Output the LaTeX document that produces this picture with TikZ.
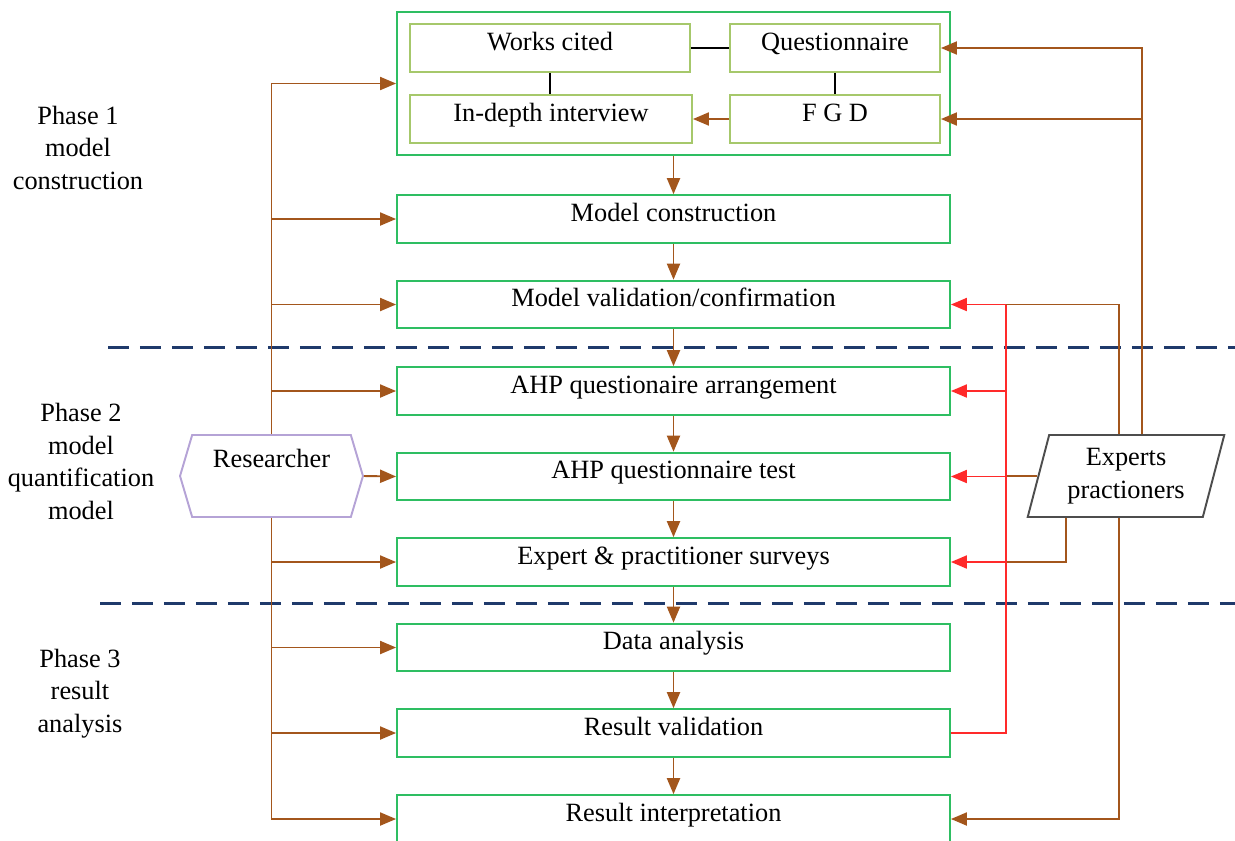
\documentclass[tikz,border=0pt]{standalone}
\usepackage{fontspec}
\setmainfont{Liberation Serif}
\usepackage{tikz}
\usetikzlibrary{shapes,arrows.meta,positioning}
\definecolor{boxgreen}{HTML}{2EBE62}
\definecolor{subgreen}{HTML}{A6C86B}
\definecolor{flowbrown}{HTML}{A3561C}
\definecolor{expertred}{HTML}{FF2A2A}
\definecolor{phaseline}{HTML}{1F3A6B}
\definecolor{resviolet}{HTML}{B5A3D6}
\definecolor{expgray}{HTML}{4D4D4D}

\begin{document}
\begin{tikzpicture}[x=0.02cm, y=-0.02cm,
    every node/.style={font=\fontsize{15}{18.5}\selectfont},
    stage/.style={rectangle, draw=boxgreen, line width=1.1pt, fill=white, minimum width=11.06cm, minimum height=0.92cm, text height=0.4cm, text depth=0.32cm},
    substage/.style={rectangle, draw=subgreen, line width=1.1pt, fill=white, minimum height=0.92cm, text height=0.4cm, text depth=0.32cm},
    flow/.style={flowbrown, line width=1.1pt, -{Triangle[length=0.32cm,width=0.26cm]}},
    flowline/.style={flowbrown, line width=1.1pt},
    feed/.style={expertred, line width=1.1pt, -{Triangle[length=0.32cm,width=0.26cm]}},
    feedline/.style={expertred, line width=1.1pt},
    phase/.style={align=center}]
        \clip (0,0) rectangle (1235,840);

        % Phase separators
        \draw[phaseline, line width=1.7pt, dash pattern=on 0.42cm off 0.22cm] (108,347) -- (1235,347);
        \draw[phaseline, line width=1.7pt, dash pattern=on 0.42cm off 0.22cm] (100,603) -- (1235,603);

        % Phase labels
        \node[phase] (ph1) at (78,147.5) {Phase 1\\model\\construction};
        \node[phase] (ph2) at (81,461.5) {Phase 2\\model\\quantification\\model};
        \node[phase] (ph3) at (80,693.5) {Phase 3\\result\\analysis};

        % Data collection block
        \node[rectangle, draw=boxgreen, line width=1.1pt, minimum width=11.06cm, minimum height=2.86cm] (collect) at (673.5,83.5) {};
        \node[substage, minimum width=5.6cm] (works) at (550,48) {Works cited};
        \node[substage, minimum width=4.2cm] (quest) at (835,48) {Questionnaire};
        \node[substage, minimum width=5.64cm, minimum height=0.96cm] (interview) at (551,119) {In-depth interview};
        \node[substage, minimum width=4.2cm, minimum height=0.96cm] (fgd) at (835,119) {F G D};
        \draw[black, line width=0.9pt] (works.east) -- (quest.west);
        \draw[black, line width=0.9pt] (works.south) -- (works.south |- interview.north);
        \draw[black, line width=0.9pt] (quest.south) -- (quest.south |- fgd.north);
        \draw[flow] (fgd.west) -- (interview.east);

        % Main steps
        \node[stage] (construct) at (673.5,219) {Model construction};
        \node[stage] (validate) at (673.5,304.5) {Model validation/confirmation};
        \node[stage] (ahparr) at (673.5,391) {AHP questionaire arrangement};
        \node[stage] (ahptest) at (673.5,476.5) {AHP questionnaire test};
        \node[stage] (survey) at (673.5,562) {Expert \& practitioner surveys};
        \node[stage] (analysis) at (673.5,647.5) {Data analysis};
        \node[stage] (resval) at (673.5,733) {Result validation};
        \node[stage] (resint) at (673.5,819) {Result interpretation};

        \draw[flow] (collect.south) -- (construct.north);
        \foreach \a/\b in {construct/validate, validate/ahparr, ahparr/ahptest, ahptest/survey, survey/analysis, analysis/resval, resval/resint}
            \draw[flow] (\a.south) -- (\b.north);

        % Actors
        \node[signal, signal to=west and east, signal pointer angle=147, draw=resviolet, line width=1.1pt, fill=white, minimum width=3.66cm, minimum height=1.64cm, text height=0.4cm, text depth=0.76cm] (res) at (271.5,476) {Researcher};
        \node[trapezium, trapezium left angle=75, trapezium right angle=105, trapezium stretches=true, draw=expgray, line width=1.1pt, fill=white, minimum width=3.96cm, minimum height=1.64cm, align=center] (exp) at (1126,476) {Experts\\practioners};

        % Researcher links
        \draw[flow] (res.north) |- (collect.west);
        \foreach \s in {construct, validate, ahparr}
            \draw[flow] (res.north |- \s.west) -- (\s.west);
        \draw[flow] (res.east) -- (ahptest.west);
        \draw[flow] (res.south) |- (resint.west);
        \foreach \s in {survey, analysis, resval}
            \draw[flow] (res.south |- \s.west) -- (\s.west);

        % Expert links
        \coordinate (qx) at (1142,47);
        \coordinate (vx) at (1119,304);
        \coordinate (sx) at (1066,563);
        \coordinate (rj) at (1006,304);
        \draw[flow] (qx |- exp.north) |- (quest.east);
        \draw[flow] (qx |- fgd.east) -- (fgd.east);
        \draw[flowline] (vx |- exp.north) |- (rj |- validate.east);
        \draw[flowline] (exp.west) -- (rj |- exp.west);
        \draw[flowline] (sx |- exp.south) |- (rj |- survey.east);
        \draw[flow] (vx |- exp.south) |- (resint.east);
        \draw[feedline] (resval.east) -| (rj |- validate.east);
        \foreach \s in {validate, ahparr, ahptest, survey}
            \draw[feed] (rj |- \s.east) -- (\s.east);
\end{tikzpicture}
\end{document}
